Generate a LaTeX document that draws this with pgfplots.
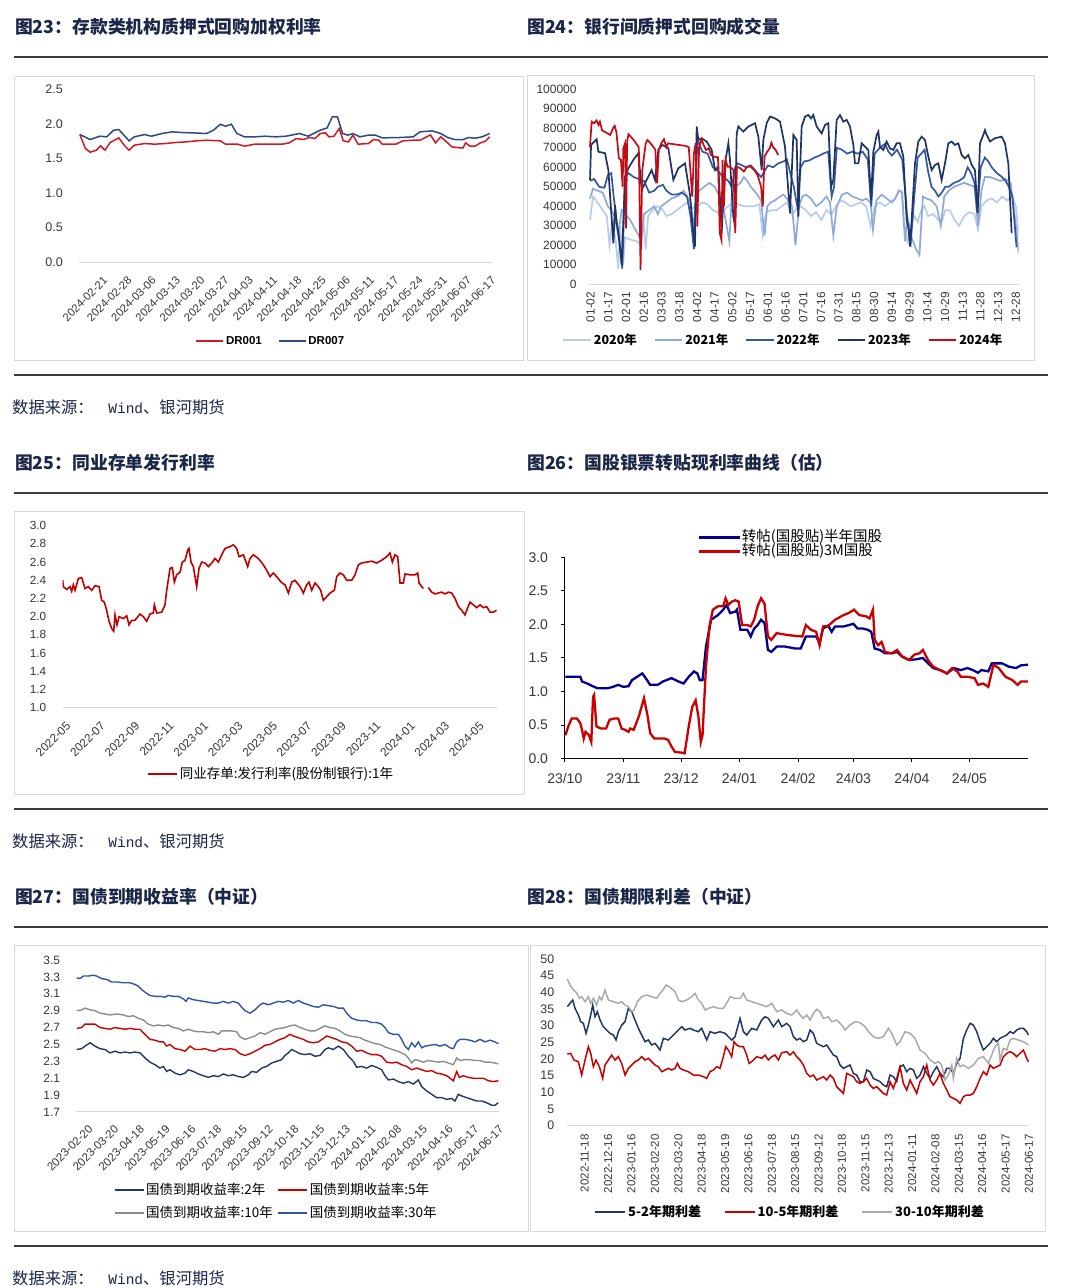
\documentclass[border=0pt]{standalone}
\usepackage{fontspec}
\setmainfont{Liberation Sans}
\newfontfamily\cjk{Noto Sans CJK SC}
\newfontfamily\mono{Liberation Mono}
\usepackage{pgfplots}
\pgfplotsset{compat=1.18}
\definecolor{titlec}{RGB}{28,38,72}
\definecolor{rulec}{RGB}{60,60,60}
\definecolor{boxc}{RGB}{217,217,217}
\definecolor{basec}{RGB}{217,217,217}
\definecolor{tickc}{RGB}{55,55,55}
\definecolor{drred}{RGB}{210,25,35}
\definecolor{drblue}{RGB}{47,72,128}
\definecolor{ya}{RGB}{184,204,234}
\definecolor{yb}{RGB}{142,170,219}
\definecolor{yc}{RGB}{52,88,160}
\definecolor{yd}{RGB}{30,52,98}
\definecolor{ye}{RGB}{200,10,20}
\definecolor{cdred}{RGB}{192,0,0}
\definecolor{zblue}{RGB}{0,0,140}
\definecolor{zred}{RGB}{204,0,0}
\definecolor{gnavy}{RGB}{31,56,100}
\definecolor{gred}{RGB}{200,0,0}
\definecolor{ggray}{RGB}{140,140,140}
\definecolor{gblue}{RGB}{47,85,170}
\definecolor{sgray}{RGB}{170,170,170}
\pgfplotsset{
 base/.style={scale only axis, enlargelimits=false, axis x line*=bottom, axis y line*=left,
   x axis line style={draw=basec, line width=1pt, -}, y axis line style={draw=none},
   tick style={draw=none}, ticklabel style={text=tickc},
   /pgf/number format/assume math mode=true,
   legend style={draw=none, fill=none, inner sep=0pt, outer sep=0pt},
   legend cell align=left},
}
\newcommand\ttl[3]{\node[anchor=west, inner sep=0pt, text=titlec, font=\cjk\bfseries\fontsize{17.8}{20}\selectfont] at (#1pt,#2pt) {#3};}
\newcommand\src[1]{\node[anchor=west, inner sep=0pt, text=titlec, font=\cjk\fontsize{16.3}{18}\selectfont] at (12pt,#1pt) {数据来源：\hspace{0.9em}{\mono\fontsize{14.5}{16}\selectfont Wind}、银河期货};}
\begin{document}
\begin{tikzpicture}
\path[use as bounding box, fill=white] (0pt,0pt) rectangle (1080pt,1288pt);
\foreach \y in {1231,913,795,479,361,42} {\draw[line width=1.2pt, rulec] (14pt,\y pt) -- (1048pt,\y pt);}
\ttl{15}{1261}{图23：存款类机构质押式回购加权利率}
\ttl{527}{1261}{图24：银行间质押式回购成交量}
\ttl{15}{825}{图25：同业存单发行利率}
\ttl{527}{825}{图26：国股银票转贴现利率曲线（估）}
\ttl{15}{391.3}{图27：国债到期收益率（中证）}
\ttl{527}{391.3}{图28：国债期限利差（中证）}
\src{881}
\src{447}
\src{10}
\draw[boxc, line width=0.8pt] (14.5pt,1212pt) rectangle (523.4pt,927.3pt);
\draw[boxc, line width=0.8pt] (527pt,1213pt) rectangle (1034.5pt,928pt);
\draw[boxc, line width=0.8pt] (14.5pt,777pt) rectangle (524pt,494pt);
\draw[boxc, line width=0.8pt] (14.5pt,342.3pt) rectangle (528pt,57pt);
\draw[boxc, line width=0.8pt] (530.3pt,343pt) rectangle (1045.1pt,56.3pt);

% ---------------- Panel 23
\begin{axis}[base, at={(78.5pt,1025.7pt)}, anchor=south west, width=413.9pt, height=173pt,
 xmin=228, xmax=1430, ymin=0, ymax=2.5, ytick={0,0.5,1,1.5,2,2.5},
 yticklabel style={/pgf/number format/fixed, /pgf/number format/fixed zerofill, /pgf/number format/precision=1, anchor=east, inner sep=0pt, xshift=-15.5pt, font=\fontsize{12.5}{14}\selectfont},
 xtick={298,368.4,438.9,509.3,579.8,650.2,720.6,791.1,861.5,932,1002.4,1072.8,1143.3,1213.7,1284.2,1354.6,1425},
 xticklabels={2024-02-21,2024-02-28,2024-03-06,2024-03-13,2024-03-20,2024-03-27,2024-04-03,2024-04-11,2024-04-18,2024-04-25,2024-05-06,2024-05-11,2024-05-17,2024-05-24,2024-05-31,2024-06-07,2024-06-17},
 xticklabel style={yshift=-13pt, rotate=45, anchor=north east, inner sep=0pt, font=\fontsize{11.3}{12}\selectfont},
 legend style={at={(0.4646,-0.455)}, anchor=center, legend columns=-1, font=\bfseries\fontsize{11.5}{13}\selectfont, /tikz/every even column/.append style={column sep=14pt}},
 legend image code/.code={\draw[#1] (0pt,0pt) -- (27pt,0pt);},
 legend image post style={line width=1.6pt}]
\addplot[drred, line width=1.5pt] coordinates {(232,1.846)(248,1.644)(262,1.591)(280,1.620)(292,1.683)(305,1.620)(320,1.731)(345,1.798)(362,1.683)(375,1.620)(390,1.692)(420,1.716)(450,1.707)(480,1.716)(510,1.731)(540,1.740)(570,1.755)(600,1.764)(640,1.755)(655,1.707)(690,1.707)(710,1.678)(740,1.707)(790,1.707)(820,1.707)(840,1.726)(860,1.788)(880,1.774)(900,1.803)(915,1.788)(930,1.861)(945,1.870)(955,1.813)(970,1.822)(985,1.933)(997,1.755)(1012,1.740)(1025,1.837)(1040,1.707)(1070,1.716)(1085,1.774)(1100,1.764)(1110,1.707)(1150,1.707)(1170,1.755)(1200,1.764)(1220,1.764)(1250,1.841)(1265,1.726)(1280,1.813)(1300,1.726)(1312,1.668)(1335,1.654)(1345,1.654)(1352,1.726)(1365,1.678)(1380,1.678)(1395,1.726)(1410,1.750)(1422,1.813)};
\addlegendentry{DR001}
\addplot[drblue, line width=1.5pt] coordinates {(232,1.846)(262,1.774)(290,1.822)(310,1.813)(330,1.909)(345,1.918)(375,1.755)(390,1.813)(420,1.846)(440,1.822)(470,1.861)(500,1.885)(530,1.875)(560,1.870)(600,1.861)(620,1.909)(640,1.995)(655,1.966)(672,1.995)(688,1.861)(710,1.813)(740,1.813)(770,1.822)(800,1.813)(830,1.822)(870,1.861)(895,1.822)(930,1.909)(950,1.942)(965,2.101)(980,2.101)(995,1.861)(1010,1.837)(1025,1.861)(1045,1.813)(1070,1.837)(1090,1.837)(1110,1.798)(1160,1.803)(1200,1.813)(1220,1.885)(1255,1.899)(1280,1.861)(1300,1.803)(1320,1.774)(1345,1.774)(1360,1.803)(1380,1.793)(1400,1.813)(1422,1.861)};
\addlegendentry{DR007}
\end{axis}

% ---------------- Panel 24
\begin{axis}[base, at={(588.9pt,1003.7pt)}, anchor=south west, width=429.7pt, height=195pt,
 xmin=200, xmax=1448, ymin=0, ymax=100000, ytick={0,10000,20000,30000,40000,50000,60000,70000,80000,90000,100000}, scaled y ticks=false,
 yticklabel style={/pgf/number format/fixed, /pgf/number format/1000 sep={}, anchor=east, inner sep=0pt, xshift=-12.1pt, font=\fontsize{12}{14}\selectfont},
 xtick={205,256.5,307.9,359.4,410.8,462.3,513.8,565.2,616.7,668.1,719.6,771.1,822.5,874,925.4,976.9,1028.4,1079.8,1131.3,1182.7,1234.2,1285.7,1337.1,1388.6,1440},
 xticklabels={01-02,01-17,02-01,02-16,03-03,03-18,04-02,04-17,05-02,05-17,06-01,06-16,07-01,07-16,07-31,08-15,08-30,09-14,09-29,10-14,10-29,11-13,11-28,12-13,12-28},
 xticklabel style={yshift=-7.4pt, rotate=90, anchor=east, inner sep=0pt, font=\fontsize{11.8}{13}\selectfont},
 legend style={at={(0.4527,-0.2856)}, anchor=center, legend columns=-1, font=\cjk\bfseries\fontsize{12.5}{14}\selectfont, /tikz/every even column/.append style={column sep=15pt}},
 legend image code/.code={\draw[#1] (0pt,0pt) -- (27.6pt,0pt);},
 legend image post style={line width=1.8pt}]
\addplot[ya, line width=1.7pt] coordinates {(203,33000)(212,45000)(225,42000)(240,38000)(252,35000)(260,20000)(268,33000)(278,22000)(285,8000)(290,30000)(300,11000)(305,24000)(320,23000)(340,22000)(350,20000)(358,33000)(365,18000)(372,35000)(385,38000)(400,40000)(415,38000)(425,35000)(440,36000)(455,38000)(470,40000)(485,42000)(500,39000)(515,40000)(530,42000)(545,41000)(560,38000)(575,37000)(590,38000)(605,40000)(620,42000)(635,41000)(650,40000)(665,40000)(680,40000)(695,41000)(705,25000)(715,37000)(730,38000)(745,38000)(760,40000)(775,42000)(790,36000)(800,38000)(815,40000)(830,38000)(845,35000)(860,37000)(875,33000)(890,38000)(905,36000)(918,40000)(930,43000)(945,42000)(960,40000)(975,41000)(990,42000)(1005,40000)(1018,30000)(1030,40000)(1045,42000)(1060,40000)(1075,42000)(1090,44000)(1100,48000)(1108,48000)(1115,30000)(1125,22000)(1135,30000)(1145,35000)(1155,32000)(1165,38000)(1175,40000)(1185,35000)(1200,36000)(1215,33000)(1225,32000)(1235,38000)(1248,38000)(1262,33000)(1275,30000)(1290,35000)(1305,37000)(1320,36000)(1330,28000)(1340,40000)(1355,43000)(1370,44000)(1385,42000)(1400,45000)(1415,43000)(1430,45000)(1440,40000)(1448,25000)};
\addlegendentry{2020年}
\addplot[yb, line width=1.7pt] coordinates {(203,44000)(212,49000)(225,48000)(240,47000)(255,40000)(265,38000)(275,35000)(285,25000)(295,38000)(305,36000)(320,33000)(335,28000)(345,25000)(352,20000)(360,36000)(375,38000)(390,40000)(400,36000)(410,40000)(425,42000)(440,44000)(455,45000)(465,46000)(475,48000)(485,45000)(495,42000)(505,30000)(512,40000)(520,48000)(535,50000)(550,52000)(565,50000)(580,45000)(590,40000)(600,30000)(608,22000)(615,46000)(625,50000)(640,52000)(650,55000)(660,53000)(670,50000)(685,47000)(700,43000)(710,25000)(718,40000)(728,42000)(740,43000)(755,45000)(765,46000)(775,44000)(790,40000)(800,20000)(810,40000)(820,45000)(830,46000)(845,44000)(860,40000)(875,42000)(890,45000)(900,42000)(910,25000)(920,40000)(935,46000)(950,47000)(965,45000)(980,44000)(995,43000)(1005,44000)(1018,42000)(1025,28000)(1035,43000)(1050,46000)(1065,44000)(1080,42000)(1090,44000)(1100,48000)(1110,47000)(1118,22000)(1125,35000)(1135,25000)(1150,18000)(1160,15000)(1170,45000)(1180,44000)(1195,43000)(1210,40000)(1222,30000)(1232,45000)(1245,48000)(1260,50000)(1275,51000)(1290,52000)(1305,51000)(1320,50000)(1330,30000)(1340,48000)(1350,55000)(1365,55000)(1380,54000)(1395,53000)(1410,54000)(1425,52000)(1440,30000)(1448,16000)};
\addlegendentry{2021年}
\addplot[yc, line width=1.7pt] coordinates {(203,53000)(215,54000)(230,50000)(245,49500)(255,56000)(265,57000)(272,45000)(280,33000)(290,20000)(297,8000)(305,55000)(315,57000)(330,55000)(345,54000)(360,53000)(375,47000)(390,48000)(400,50000)(415,51000)(425,48000)(440,46000)(455,46000)(470,47000)(485,45000)(495,35000)(505,18000)(515,75000)(520,72000)(530,68000)(545,67000)(560,60000)(575,58000)(590,55000)(605,53000)(615,50000)(625,60000)(632,62000)(645,61000)(655,60000)(670,61000)(685,58000)(700,55000)(710,58000)(720,61000)(735,60000)(750,62000)(765,63000)(775,64000)(785,57000)(795,50000)(805,40000)(815,60000)(825,63000)(840,63500)(855,65000)(870,66000)(880,67000)(895,68000)(905,45000)(912,50000)(920,70000)(935,69000)(950,67000)(965,68000)(980,67000)(995,68000)(1010,64000)(1020,40000)(1030,67000)(1045,70000)(1060,72000)(1070,68000)(1080,66000)(1095,69000)(1110,64000)(1120,45000)(1125,32000)(1135,22000)(1145,45000)(1155,65000)(1165,67000)(1175,69000)(1185,58000)(1195,50000)(1205,48000)(1215,45000)(1225,47000)(1235,50000)(1245,50000)(1260,52000)(1275,53000)(1290,55000)(1300,60000)(1310,57000)(1320,52000)(1328,37000)(1338,60000)(1350,65000)(1360,63000)(1370,60000)(1385,57000)(1400,55000)(1410,53000)(1420,50000)(1430,45000)(1442,19000)};
\addlegendentry{2022年}
\addplot[yd, line width=1.7pt] coordinates {(203.3,53500)(206.2,71500)(222.6,74400)(227.5,68000)(246.8,67200)(256.5,58600)(271,21000)(275.9,40700)(280.7,31300)(285.5,27000)(295.2,9900)(304.9,55200)(314.6,59500)(329.1,63800)(343.6,67200)(353.3,48400)(367.8,53500)(382.3,58600)(392,53500)(401.7,68900)(413.3,71500)(430.7,69700)(445.3,53500)(459.8,59500)(479.1,62000)(493.7,45800)(500.4,31300)(508.2,19300)(513,80900)(517.9,74000)(527.5,74900)(542,73200)(556.6,68900)(566.3,58600)(576,60300)(585.6,26200)(595.3,62000)(605,72300)(609.8,63800)(614.7,48400)(619.5,34700)(624.3,29600)(629.2,77400)(634,80900)(648.6,78300)(663.1,80900)(682.4,82600)(692.1,75700)(701.8,58600)(706.6,74000)(716.3,82600)(726,86000)(740.5,85100)(755,83400)(769.5,70600)(784.1,36400)(793.8,76600)(803.4,74000)(808.3,34700)(818,80900)(827.6,86000)(837.3,86800)(845.1,85100)(851.8,86800)(861.5,80900)(876,77400)(885.7,81700)(895.4,82600)(903.1,50100)(909.9,53500)(919.6,84300)(929.3,86800)(939,83400)(948.6,84300)(958.3,80900)(968,71500)(972.8,62000)(982.5,62000)(992.2,72300)(1001.9,70600)(1011.6,68900)(1019.3,43200)(1026.1,68000)(1035.8,76600)(1040.6,78300)(1045.4,70600)(1055.1,68900)(1064.8,73200)(1074.5,69700)(1084.2,68900)(1093.8,72300)(1103.5,72300)(1113.2,65500)(1122.9,33000)(1127.7,29600)(1132.6,19300)(1137.4,33000)(1147.1,62000)(1156.8,73200)(1166.4,75700)(1176.1,74000)(1185.8,65500)(1195.5,58600)(1205.2,61200)(1214.8,62000)(1224.5,53500)(1234.2,62000)(1243.9,72300)(1253.6,73200)(1263.2,71500)(1272.9,72300)(1282.6,66300)(1292.3,64600)(1302,66300)(1311.6,61200)(1321.3,58600)(1329.1,36400)(1335.8,72300)(1345.5,76600)(1350.4,79100)(1355.2,76600)(1364.9,73200)(1379.4,74900)(1398.8,75700)(1408.4,72300)(1418.1,62000)(1427.8,26200)};
\addlegendentry{2023年}
\addplot[ye, line width=1.7pt] coordinates {(203,70300)(208,83400)(215,82600)(222,84000)(228,81700)(232,83400)(238,79000)(250,77800)(262,76600)(270,80000)(275,81200)(280,78000)(287,64600)(293,63800)(298,50000)(300,69700)(305,72300)(308,28700)(311,73200)(315,77000)(330,74000)(340,71500)(345,70300)(350,7400)(355,58600)(365,72300)(370,74000)(378,72500)(385,71000)(393,69000)(398,51800)(403,69000)(410,72300)(418,74400)(425,70300)(430,72300)(440,72000)(460,71500)(480,71000)(490,70300)(500,45000)(505,67200)(510,72300)(515,29600)(520,70300)(527,74400)(533,71500)(540,68900)(548,69700)(555,66300)(562,65500)(575,65100)(580,26200)(585,22700)(588,63800)(592,39800)(597,63800)(603,60300)(610,60300)(620,58600)(625,26200)(630,60300)(640,59500)(650,57800)(660,60300)(670,60300)(680,58600)(690,56000)(700,50000)(705,39800)(710,65500)(718,68000)(725,69700)(730,72600)(735,70300)(742,69000)(750,66300)};
\addlegendentry{2024年}
\end{axis}

% ---------------- Panel 25
\begin{axis}[base, at={(62.7pt,580.3pt)}, anchor=south west, width=433.9pt, height=182pt,
 xmin=182, xmax=1442, ymin=1, ymax=3, ytick={1.0,1.2,1.4,1.6,1.8,2.0,2.2,2.4,2.6,2.8,3.0},
 unbounded coords=jump,
 yticklabel style={/pgf/number format/fixed, /pgf/number format/fixed zerofill, /pgf/number format/precision=1, anchor=east, inner sep=0pt, xshift=-16.2pt, font=\fontsize{11.8}{13}\selectfont},
 xtick={190,290,390,490,590,690,790,890,990,1090,1190,1290,1390},
 xticklabels={2022-05,2022-07,2022-09,2022-11,2023-01,2023-03,2023-05,2023-07,2023-09,2023-11,2024-01,2024-03,2024-05},
 xticklabel style={yshift=-13pt, rotate=45, anchor=north east, inner sep=0pt, font=\fontsize{11.8}{13}\selectfont},
 legend style={at={(0.4805,-0.364)}, anchor=center, font=\cjk\fontsize{13.5}{15}\selectfont},
 legend image code/.code={\draw[#1] (0pt,0pt) -- (29pt,0pt);},
 legend image post style={line width=1.6pt}]
\addplot[cdred, line width=1.6pt] coordinates {(182,2.403)(183.9,2.33)(193.6,2.30)(203.3,2.33)(208.1,2.28)(212.9,2.35)(217.8,2.29)(227.5,2.42)(237.1,2.43)(246.8,2.31)(256.5,2.33)(266.2,2.29)(275.9,2.34)(287.5,2.33)(295.2,2.18)(303,2.16)(309.7,2.07)(316.5,1.95)(324.3,1.87)(330.1,1.84)(334,2.02)(339.7,1.91)(345.6,2.00)(358.1,1.98)(367.8,2.01)(374.6,1.91)(382.3,1.96)(392,1.96)(406.5,2.03)(416.2,2.00)(425.9,1.95)(435.6,2.03)(445.3,2.04)(448.2,2.13)(455,2.04)(469.5,2.05)(479.1,2.13)(484,2.29)(493.7,2.53)(500.4,2.54)(506.2,2.38)(513,2.46)(522.7,2.49)(529.5,2.60)(537.2,2.62)(545,2.73)(548.8,2.75)(554.6,2.60)(561.4,2.55)(571.1,2.33)(577.9,2.53)(585.6,2.60)(595.3,2.59)(605,2.55)(614.7,2.59)(624.3,2.64)(634,2.60)(643.7,2.68)(653.4,2.75)(667.9,2.77)(677.6,2.79)(687.3,2.75)(694,2.66)(706.6,2.68)(719.2,2.55)(726,2.64)(735.7,2.68)(750.2,2.64)(764.7,2.57)(774.4,2.51)(784.1,2.44)(793.8,2.48)(803.4,2.44)(816,2.38)(827.6,2.35)(837.3,2.26)(847,2.38)(856.7,2.40)(871.2,2.33)(880.9,2.26)(890.5,2.35)(897.3,2.38)(905.1,2.29)(914.7,2.37)(924.4,2.33)(931.2,2.29)(938.9,2.18)(948.6,2.22)(958.3,2.26)(970.9,2.29)(977.7,2.44)(987.3,2.48)(997,2.46)(1006.7,2.40)(1021.2,2.40)(1030.9,2.46)(1040.6,2.57)(1050.3,2.59)(1064.8,2.60)(1079.3,2.61)(1093.8,2.59)(1108.3,2.62)(1122.9,2.66)(1132.5,2.70)(1139.3,2.60)(1147.1,2.68)(1154.8,2.66)(1161.6,2.37)(1171.3,2.37)(1176.1,2.47)(1190.6,2.46)(1205.1,2.46)(1212.9,2.48)(1216.8,2.37)(1224.5,2.33)(1229.3,2.31)(1236,nan)(1243.9,2.32)(1253.5,2.27)(1263.2,2.25)(1272.9,2.26)(1282.6,2.27)(1292.3,2.25)(1302,2.27)(1311.6,2.26)(1321.3,2.20)(1331,2.11)(1340.7,2.07)(1350.3,2.02)(1355.2,2.07)(1364.9,2.16)(1374.5,2.13)(1384.2,2.10)(1393.9,2.13)(1403.6,2.10)(1413.3,2.11)(1423,2.05)(1432.6,2.05)(1442,2.07)};
\addlegendentry{同业存单:发行利率(股份制银行):1年}
\end{axis}

% ---------------- Panel 26
\begin{axis}[base, at={(564.8pt,529.3pt)}, anchor=south west, width=463.1pt, height=201.4pt,
 xmin=130, xmax=1475, ymin=0, ymax=3,
 x axis line style={draw=black, line width=1.2pt, -}, y axis line style={draw=black, line width=1.2pt, -},
 tick style={draw=black, line width=1pt}, tick align=outside, major tick length=3.5pt,
 ytick={0,0.5,1,1.5,2,2.5,3},
 yticklabel style={/pgf/number format/fixed, /pgf/number format/fixed zerofill, /pgf/number format/precision=1, anchor=east, inner sep=0pt, xshift=-13.1pt, font=\fontsize{14}{15}\selectfont},
 xtick={130,300,468,637,808,968,1138,1305},
 xticklabels={23/10,23/11,23/12,24/01,24/02,24/03,24/04,24/05},
 xticklabel style={anchor=north, inner sep=0pt, yshift=-11pt, font=\fontsize{14}{15}\selectfont},
 legend style={at={(0.286,1.0626)}, anchor=west, font=\cjk\fontsize{14.5}{16}\selectfont, nodes={inner sep=1pt, text height=10pt, text depth=2pt}},
 legend image code/.code={\draw[#1] (0pt,0pt) -- (41pt,0pt);},
 legend image post style={line width=2.6pt}]
\addplot[zblue, line width=2.3pt] coordinates {(132,1.22)(140,1.22)(175,1.22)(180,1.15)(195,1.12)(215,1.07)(225,1.05)(255,1.05)(270,1.07)(285,1.10)(300,1.07)(315,1.08)(325,1.17)(340,1.22)(355,1.27)(365,1.20)(378,1.10)(400,1.10)(415,1.15)(440,1.20)(460,1.15)(475,1.12)(490,1.22)(505,1.30)(515,1.27)(522,1.17)(530,1.17)(540,1.67)(555,2.07)(575,2.14)(590,2.22)(600,2.29)(610,2.17)(625,2.19)(630,2.22)(640,1.92)(650,1.92)(660,1.92)(670,1.82)(680,1.94)(690,1.99)(700,2.07)(710,2.02)(720,1.62)(730,1.59)(745,1.67)(770,1.67)(800,1.64)(815,1.64)(830,1.82)(845,1.82)(860,1.82)(870,1.72)(880,1.94)(895,1.98)(905,1.89)(915,1.97)(940,1.97)(955,1.99)(968,2.01)(980,1.94)(995,1.94)(1010,1.92)(1020,1.89)(1030,1.64)(1045,1.62)(1060,1.57)(1080,1.57)(1095,1.59)(1110,1.52)(1130,1.47)(1150,1.48)(1170,1.50)(1185,1.42)(1200,1.35)(1220,1.32)(1240,1.27)(1260,1.35)(1280,1.32)(1300,1.35)(1315,1.32)(1330,1.28)(1340,1.32)(1360,1.30)(1370,1.42)(1385,1.42)(1400,1.42)(1420,1.37)(1440,1.35)(1455,1.39)(1475,1.40)};
\addlegendentry{转帖(国股贴)半年国股}
\addplot[zred, line width=2.3pt] coordinates {(132,0.35)(140,0.48)(150,0.60)(165,0.60)(175,0.53)(180,0.43)(185,0.30)(190,0.40)(200,0.35)(207,0.25)(212,0.92)(215,0.95)(222,0.48)(235,0.45)(250,0.45)(260,0.58)(275,0.60)(285,0.60)(295,0.45)(305,0.43)(315,0.40)(320,0.45)(330,0.43)(345,0.63)(360,0.90)(370,0.65)(378,0.38)(390,0.30)(420,0.30)(430,0.28)(440,0.18)(450,0.10)(470,0.09)(478,0.08)(490,0.48)(500,0.77)(510,0.87)(518,0.63)(525,0.25)(530,0.35)(540,1.37)(550,1.97)(560,2.22)(575,2.27)(590,2.27)(597,2.39)(605,2.29)(615,2.34)(625,2.36)(635,2.34)(645,1.99)(660,1.99)(670,1.97)(680,2.07)(690,2.27)(700,2.39)(710,2.31)(720,1.82)(730,1.77)(745,1.87)(780,1.84)(820,1.82)(830,1.99)(845,1.92)(860,1.89)(870,1.69)(880,1.97)(895,1.98)(915,2.07)(940,2.14)(955,2.17)(970,2.22)(985,2.14)(1005,2.12)(1015,2.09)(1025,2.22)(1030,1.77)(1040,1.69)(1050,1.74)(1060,1.59)(1080,1.57)(1095,1.62)(1110,1.52)(1130,1.47)(1145,1.55)(1160,1.57)(1170,1.62)(1185,1.47)(1200,1.37)(1220,1.32)(1240,1.27)(1255,1.35)(1270,1.30)(1280,1.22)(1300,1.22)(1320,1.20)(1330,1.10)(1345,1.12)(1360,1.07)(1375,1.40)(1390,1.35)(1410,1.22)(1430,1.17)(1445,1.10)(1455,1.15)(1475,1.15)};
\addlegendentry{转帖(国股贴)3M国股}
\end{axis}

% ---------------- Panel 27
\begin{axis}[base, at={(76.4pt,176pt)}, anchor=south west, width=422.2pt, height=152pt,
 xmin=19.2, xmax=1285.8, ymin=1.7, ymax=3.5, ytick={1.7,1.9,2.1,2.3,2.5,2.7,2.9,3.1,3.3,3.5},
 yticklabel style={/pgf/number format/fixed, /pgf/number format/fixed zerofill, /pgf/number format/precision=1, anchor=east, inner sep=0pt, xshift=-16.1pt, font=\fontsize{12}{13}\selectfont},
 xtick={53.4,130.6,207.8,285,362.2,439.4,516.6,593.8,671,748.2,825.4,902.6,979.8,1057,1134.2,1211.4,1285.5},
 xticklabels={2023-02-20,2023-03-20,2023-04-18,2023-05-19,2023-06-16,2023-07-18,2023-08-15,2023-09-12,2023-10-18,2023-11-15,2023-12-13,2024-01-11,2024-02-08,2024-03-15,2024-04-16,2024-05-17,2024-06-17},
 xticklabel style={yshift=-12pt, rotate=45, anchor=north east, inner sep=0pt, font=\fontsize{11.5}{12}\selectfont},
 legend columns=2,
 legend style={at={(0.0881,-0.590)}, anchor=west, font=\cjk\fontsize{13.5}{15}\selectfont, nodes={inner sep=1.5pt, text height=10.5pt, text depth=2.5pt}, row sep=7pt, /tikz/every even column/.append style={column sep=3pt}},
 legend image code/.code={\draw[#1] (0pt,0pt) -- (29pt,0pt);},
 legend image post style={line width=2pt}]
\addplot[gnavy, line width=1.4pt] coordinates {(20,2.44)(35,2.45)(45,2.48)(60,2.52)(75,2.48)(90,2.45)(105,2.44)(120,2.40)(135,2.42)(150,2.40)(165,2.41)(180,2.40)(195,2.41)(210,2.40)(225,2.34)(240,2.29)(255,2.26)(270,2.22)(280,2.24)(290,2.18)(300,2.20)(315,2.16)(330,2.14)(345,2.16)(355,2.20)(370,2.18)(385,2.15)(400,2.13)(415,2.11)(430,2.13)(445,2.12)(460,2.15)(475,2.13)(490,2.14)(505,2.12)(520,2.11)(535,2.14)(545,2.18)(560,2.17)(575,2.22)(590,2.24)(605,2.28)(620,2.30)(635,2.32)(645,2.37)(655,2.40)(665,2.44)(675,2.42)(690,2.39)(705,2.38)(720,2.39)(735,2.36)(750,2.37)(765,2.44)(775,2.46)(790,2.44)(805,2.48)(820,2.44)(835,2.36)(850,2.30)(860,2.23)(875,2.24)(890,2.22)(905,2.25)(920,2.23)(935,2.20)(945,2.13)(955,2.08)(970,2.09)(985,2.06)(1000,2.04)(1015,2.06)(1030,2.03)(1045,2.08)(1055,2.00)(1070,1.95)(1085,1.91)(1100,1.87)(1115,1.87)(1130,1.85)(1145,1.86)(1155,1.83)(1165,1.91)(1175,1.89)(1190,1.87)(1205,1.85)(1220,1.83)(1235,1.83)(1250,1.81)(1265,1.78)(1275,1.78)(1285,1.81)};
\addlegendentry{国债到期收益率:2年}
\addplot[gred, line width=1.4pt] coordinates {(20,2.69)(35,2.70)(45,2.74)(60,2.74)(75,2.74)(90,2.70)(105,2.69)(120,2.68)(135,2.70)(150,2.69)(165,2.68)(180,2.69)(195,2.68)(210,2.68)(225,2.62)(240,2.56)(255,2.55)(270,2.53)(280,2.53)(290,2.48)(300,2.50)(315,2.45)(330,2.44)(345,2.42)(360,2.48)(375,2.44)(390,2.44)(405,2.45)(420,2.43)(435,2.42)(450,2.45)(465,2.44)(480,2.45)(495,2.44)(510,2.39)(525,2.37)(540,2.39)(555,2.42)(570,2.45)(585,2.49)(600,2.50)(615,2.53)(630,2.56)(645,2.58)(660,2.62)(670,2.60)(685,2.58)(700,2.56)(715,2.53)(730,2.52)(745,2.53)(760,2.57)(770,2.60)(785,2.58)(800,2.56)(815,2.53)(830,2.52)(845,2.48)(860,2.42)(875,2.43)(890,2.40)(905,2.38)(920,2.38)(935,2.36)(950,2.29)(965,2.28)(980,2.29)(995,2.26)(1010,2.24)(1025,2.20)(1040,2.22)(1055,2.20)(1070,2.18)(1085,2.19)(1100,2.16)(1115,2.15)(1130,2.13)(1140,2.10)(1150,2.07)(1160,2.18)(1168,2.11)(1180,2.13)(1195,2.11)(1210,2.10)(1225,2.10)(1240,2.10)(1255,2.07)(1270,2.06)(1285,2.07)};
\addlegendentry{国债到期收益率:5年}
\addplot[ggray, line width=1.4pt] coordinates {(20,2.90)(35,2.91)(45,2.93)(60,2.91)(75,2.90)(90,2.87)(105,2.86)(120,2.85)(140,2.86)(160,2.85)(175,2.83)(190,2.84)(205,2.81)(220,2.79)(235,2.74)(250,2.72)(265,2.73)(280,2.72)(295,2.73)(310,2.70)(325,2.69)(340,2.66)(355,2.68)(370,2.66)(385,2.65)(400,2.65)(415,2.64)(430,2.65)(445,2.62)(455,2.66)(470,2.66)(485,2.66)(500,2.65)(510,2.59)(525,2.56)(540,2.58)(555,2.60)(570,2.64)(585,2.62)(600,2.65)(615,2.68)(630,2.69)(645,2.70)(660,2.72)(675,2.73)(690,2.70)(705,2.68)(720,2.66)(735,2.66)(750,2.69)(765,2.72)(780,2.70)(795,2.69)(810,2.66)(825,2.62)(840,2.60)(855,2.59)(870,2.58)(885,2.55)(900,2.53)(915,2.51)(930,2.50)(945,2.47)(960,2.45)(975,2.43)(990,2.41)(1005,2.38)(1015,2.34)(1025,2.28)(1035,2.32)(1045,2.31)(1060,2.29)(1075,2.31)(1090,2.30)(1105,2.29)(1120,2.30)(1135,2.28)(1150,2.26)(1160,2.34)(1170,2.31)(1185,2.32)(1200,2.32)(1215,2.31)(1230,2.31)(1245,2.29)(1260,2.29)(1275,2.28)(1285,2.27)};
\addlegendentry{国债到期收益率:10年}
\addplot[gblue, line width=1.4pt] coordinates {(20,3.289)(30,3.28)(40,3.31)(55,3.31)(70,3.32)(80,3.31)(95,3.28)(110,3.27)(125,3.24)(140,3.24)(160,3.23)(180,3.23)(195,3.21)(205,3.19)(215,3.15)(228,3.11)(240,3.08)(255,3.07)(270,3.07)(285,3.06)(295,3.08)(310,3.07)(325,3.07)(340,3.04)(348,3.01)(355,3.05)(370,3.03)(385,3.02)(400,3.01)(415,3.00)(430,2.99)(445,2.99)(460,3.01)(475,2.99)(490,3.01)(505,2.99)(515,2.94)(525,2.90)(540,2.87)(555,2.91)(570,2.97)(580,2.99)(595,2.97)(610,2.99)(625,3.01)(640,3.00)(655,3.02)(670,2.99)(685,3.02)(700,2.99)(715,2.97)(730,2.95)(745,2.94)(760,2.97)(775,2.96)(790,2.95)(805,2.93)(820,2.93)(830,2.87)(845,2.81)(860,2.79)(875,2.78)(890,2.78)(905,2.76)(920,2.76)(935,2.74)(945,2.70)(955,2.64)(970,2.62)(985,2.62)(995,2.56)(1005,2.48)(1015,2.44)(1025,2.52)(1035,2.47)(1045,2.53)(1055,2.46)(1065,2.48)(1080,2.49)(1095,2.50)(1110,2.48)(1125,2.50)(1140,2.46)(1150,2.45)(1160,2.53)(1170,2.56)(1185,2.56)(1200,2.55)(1215,2.53)(1230,2.56)(1245,2.53)(1260,2.55)(1275,2.53)(1285,2.51)};
\addlegendentry{国债到期收益率:30年}
\end{axis}

% ---------------- Panel 28
\begin{axis}[base, at={(566.5pt,162.3pt)}, anchor=south west, width=462.5pt, height=166.7pt,
 xmin=135, xmax=1478, ymin=0, ymax=50, ytick={0,5,10,15,20,25,30,35,40,45,50},
 yticklabel style={anchor=east, inner sep=0pt, xshift=-12.1pt, font=\fontsize{12.4}{14}\selectfont},
 xtick={188,255.9,323.8,391.7,459.6,527.5,595.4,663.3,731.2,799.1,867,934.9,1002.8,1070.7,1138.6,1206.5,1274.4,1342.3,1410.2,1477.5},
 xticklabels={2022-11-18,2022-12-16,2023-01-16,2023-02-20,2023-03-20,2023-04-18,2023-05-19,2023-06-16,2023-07-18,2023-08-15,2023-09-12,2023-10-18,2023-11-15,2023-12-13,2024-01-11,2024-02-08,2024-03-15,2024-04-16,2024-05-17,2024-06-17},
 xticklabel style={yshift=-8.3pt, rotate=90, anchor=east, inner sep=0pt, font=\fontsize{11.5}{13}\selectfont},
 legend style={at={(0.4836,-0.516)}, anchor=center, legend columns=-1, font=\cjk\bfseries\fontsize{13}{15}\selectfont, /tikz/every even column/.append style={column sep=21pt}},
 legend image code/.code={\draw[#1] (0pt,0pt) -- (30pt,0pt);},
 legend image post style={line width=1.7pt}]
\addplot[gnavy, line width=1.5pt] coordinates {(137.5,35.7)(145.2,36.7)(153,37.7)(159.8,35.2)(169.4,33.2)(176.2,31.2)(184,30.7)(191.7,27.7)(198.5,30.2)(205.3,33.2)(211.1,36.2)(217.8,32.7)(224.6,34.2)(232.4,31.7)(242,29.7)(251.7,28.7)(261.4,27.7)(271.1,27.2)(278.8,25.7)(285.6,28.2)(295.3,30.2)(305,31.2)(314.6,35.2)(324.3,34.2)(334,31.7)(343.7,29.2)(353.4,27.2)(363,25.2)(372.7,25.7)(382.4,24.2)(392.1,24.7)(406.6,22.7)(416.3,26.2)(430.8,25.7)(445.3,27.2)(459.8,28.7)(469.5,29.7)(479.2,28.7)(493.7,29.2)(503.4,28.7)(517.9,28.2)(527.6,29.2)(542.1,25.7)(551.8,28.2)(566.3,27.7)(580.8,28.2)(595.4,27.7)(605,26.7)(614.7,25.7)(624.4,26.7)(638.9,32.2)(648.6,28.2)(658.3,27.2)(672.8,29.2)(687.3,28.7)(701.8,31.7)(711.5,32.7)(721.2,32.2)(735.7,29.7)(750.2,31.7)(759.9,29.7)(774.4,30.7)(784.1,29.7)(793.8,26.7)(803.5,25.7)(813.1,26.2)(822.8,25.2)(832.5,25.7)(842.2,28.7)(851.9,27.7)(861.5,24.7)(871.2,24.2)(880.9,23.7)(890.6,24.2)(900.3,22.7)(910,21.2)(919.6,20.7)(929.3,18.2)(939,17.2)(948.7,17.7)(958.3,18.2)(968,15.7)(977.7,15.2)(987.4,13.2)(997.1,13.2)(1006.7,16.7)(1016.4,16.2)(1026.1,14.2)(1035.8,13.7)(1045.5,13.2)(1055.1,12.2)(1064.8,11.7)(1074.5,15.2)(1084.2,14.7)(1093.9,13.2)(1103.5,17.7)(1113.2,18.2)(1122.9,16.2)(1132.6,17.2)(1142.3,16.7)(1151.9,14.2)(1161.6,15.2)(1171.3,17.7)(1181,15.7)(1190.7,14.2)(1200.3,16.2)(1210,17.7)(1219.7,15.7)(1229.4,14.7)(1239.1,17.2)(1248.7,17.2)(1258.4,15.7)(1268.1,18.7)(1277.8,20.2)(1287.5,26.2)(1297.1,28.7)(1306.8,30.7)(1316.5,30.2)(1326.2,28.2)(1335.9,25.2)(1345.5,22.7)(1355.2,23.7)(1364.9,24.7)(1374.6,26.2)(1384.3,25.2)(1393.9,26.2)(1403.6,26.7)(1413.3,27.2)(1423,28.2)(1432.7,27.7)(1442.3,28.7)(1452,29.2)(1461.7,29.2)(1471.4,28.2)(1476.2,27.2)};
\addlegendentry{5-2年期利差}
\addplot[gred, line width=1.5pt] coordinates {(137.5,21.5)(147.2,21.7)(156.9,19.7)(169.4,19.2)(179.1,15.2)(188.8,19.7)(198.5,23.7)(205.3,21.7)(213,17.7)(220.7,19.7)(230.4,17.7)(240.1,14.2)(246.9,18.2)(256.6,19.7)(266.2,21.2)(275.9,19.7)(285.6,20.7)(295.3,18.7)(305,15.2)(314.6,17.2)(324.3,18.2)(334,19.2)(343.7,19.7)(353.4,20.7)(363,19.7)(372.7,20.2)(382.4,19.2)(392.1,18.2)(401.8,17.7)(411.4,16.2)(421.1,16.7)(430.8,17.2)(440.5,16.7)(450.2,17.2)(456.9,18.7)(464.7,17.2)(474.4,16.7)(488.9,16.2)(503.4,15.2)(517.9,15.2)(532.4,14.7)(542.1,14.2)(551.8,16.2)(561.5,16.7)(571.2,17.7)(580.8,17.2)(590.5,20.7)(597.3,23.7)(605,22.7)(614.7,20.7)(621.5,25.2)(629.2,24.2)(638.9,23.7)(648.6,23.7)(658.3,21.2)(665.1,18.7)(672.8,19.2)(687.3,20.7)(701.8,20.2)(711.5,21.2)(721.2,19.7)(730.9,20.7)(740.6,21.2)(750.2,19.7)(759.9,21.9)(774.4,22.2)(784.1,21.2)(793.8,22.2)(803.5,20.7)(813.1,19.7)(822.8,18.2)(832.5,15.7)(842.2,14.7)(851.9,15.2)(861.5,13.7)(871.2,14.2)(880.9,14.7)(890.6,13.7)(900.3,15.2)(910,14.2)(919.6,11.7)(929.3,10.7)(939,9.7)(948.7,15.7)(958.3,15.2)(968,14.7)(977.7,13.2)(987.4,12.7)(997.1,13.2)(1006.7,14.2)(1016.4,12.2)(1026.1,11.2)(1035.8,11.7)(1045.5,10.7)(1055.1,9.7)(1064.8,9.2)(1074.5,13.2)(1084.2,11.2)(1093.9,14.2)(1103.5,17.7)(1113.2,12.7)(1122.9,10.7)(1132.6,13.7)(1142.3,11.7)(1151.9,9.7)(1161.6,13.2)(1171.3,14.7)(1181,18.2)(1190.7,13.7)(1200.3,12.2)(1210,13.7)(1219.7,15.7)(1229.4,12.7)(1239.1,10.7)(1248.7,8.7)(1258.4,8.2)(1268.1,7.7)(1277.8,6.7)(1287.5,8.7)(1297.1,9.2)(1306.8,9.2)(1316.5,9.7)(1326.2,11.7)(1335.9,14.2)(1345.5,16.2)(1355.2,15.2)(1364.9,18.2)(1374.6,17.2)(1384.3,17.7)(1393.9,18.2)(1403.6,20.7)(1413.3,21.7)(1423,22.2)(1432.7,21.7)(1442.3,20.7)(1452,21.7)(1461.7,22.7)(1471.4,20.2)(1476.2,19.2)};
\addlegendentry{10-5年期利差}
\addplot[sgray, line width=1.5pt] coordinates {(137.5,43.9)(145.2,42.2)(154.9,40.7)(164.6,39.9)(172.3,38.2)(179.1,38.7)(188.8,37.2)(198.5,38.7)(205.3,36.7)(213,38.2)(222.7,36.2)(230.4,38.7)(237.2,37.7)(246.9,40.7)(256.6,37.7)(271.1,37.2)(285.6,36.7)(295.3,37.2)(305,36.2)(314.6,35.7)(324.3,34.2)(331.1,34.7)(340.8,37.2)(353.4,38.7)(367.9,39.2)(382.4,38.7)(396.9,38.2)(406.6,39.7)(416.3,40.9)(424,42.2)(435.6,41.5)(450.2,40.2)(459.8,37.7)(469.5,37.2)(484,37.7)(498.6,38.7)(508.2,39.7)(517.9,37.7)(527.6,36.7)(537.3,34.7)(547,35.2)(561.5,35.7)(576,35.2)(590.5,35.2)(600.2,36.7)(609.9,38.7)(624.4,38.2)(638.9,38.2)(648.6,39.7)(658.3,37.7)(672.8,37.2)(687.3,36.7)(701.8,36.2)(716.4,35.7)(730.9,36.7)(745.4,34.2)(759.9,34.7)(774.4,33.7)(789,33.2)(803.5,34.7)(813.2,33.2)(822.8,32.2)(832.5,33.2)(842.2,31.7)(851.9,33.7)(861.5,34.9)(871.2,34.2)(880.9,32.2)(895.4,32.7)(905.1,31.2)(919.6,31.7)(934.1,30.2)(943.8,28.7)(958.3,30.2)(972.9,31.2)(987.4,30.9)(1001.9,29.7)(1011.6,28.2)(1026.1,26.7)(1040.6,26.2)(1055.1,26.7)(1069.7,29.2)(1079.3,27.7)(1093.9,24.2)(1103.5,25.2)(1118.1,28.2)(1132.6,27.7)(1147.1,26.2)(1161.6,22.7)(1176.1,21.7)(1190.7,19.7)(1205.2,18.7)(1214.9,19.2)(1224.5,18.2)(1234.2,13.7)(1243.9,15.2)(1253.6,18.2)(1258.4,14.2)(1268.1,20.2)(1277.8,17.7)(1287.5,18.2)(1302,17.2)(1316.5,18.2)(1331,20.2)(1345.5,20.7)(1360.1,18.7)(1369.7,21.2)(1379.4,23.7)(1389.1,24.7)(1393.9,19.7)(1403.6,23.2)(1413.3,22.7)(1423,25.7)(1432.7,26.2)(1447.2,25.7)(1461.7,25.2)(1476.2,24.2)};
\addlegendentry{30-10年期利差}
\end{axis}
\end{tikzpicture}
\end{document}
